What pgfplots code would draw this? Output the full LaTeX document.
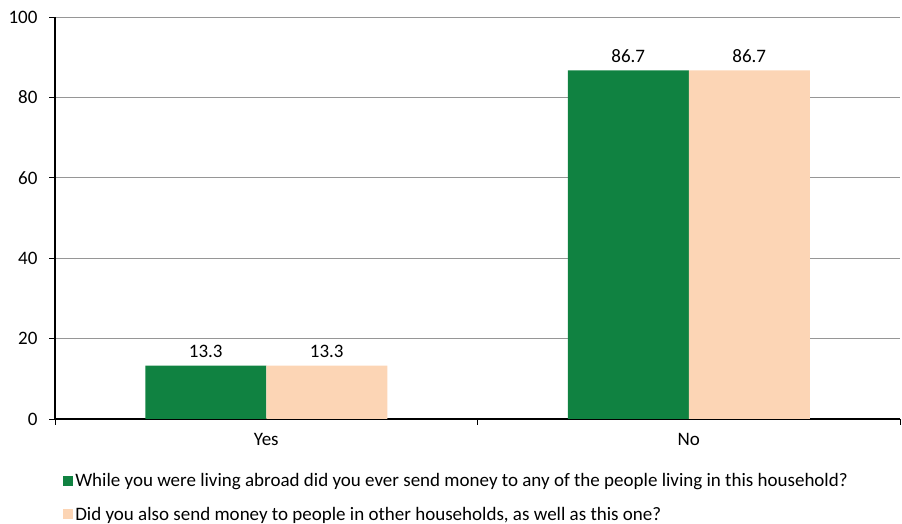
\documentclass[border=0pt]{standalone}
\usepackage{pgfplots}
\pgfplotsset{compat=1.18}
\usepackage{fontspec}
\setmainfont{Carlito}
\definecolor{darkgreen}{RGB}{16,130,65}
\definecolor{peach}{RGB}{252,213,181}
\definecolor{gridgray}{RGB}{150,150,150}
\newcommand{\lblfont}{\fontsize{19}{22}\selectfont}
\begin{document}
\begin{tikzpicture}[x=1pt,y=1pt]
\useasboundingbox (-55,-105) rectangle (847,419);
\begin{axis}[
  at={(0,0)}, anchor=south west,
  scale only axis,
  width=845pt, height=402pt,
  ybar=0pt, bar width=121pt,
  xmin=-0.5, xmax=1.5,
  ymin=0, ymax=100,
  ytick={0,20,...,100},
  xtick={-0.5,0.5,1.5}, xticklabels={},
  extra x ticks={0,1},
  extra x tick labels={Yes,No},
  extra x tick style={major tick length=0pt, grid=none},
  x tick style={black, line width=0.6pt},
  xtick align=outside,
  ytick align=outside, ytick pos=left, xtick pos=bottom,
  major tick length=6pt,
  ytick style={black, line width=0.6pt},
  ymajorgrids, grid style={gridgray, line width=0.8pt},
  axis x line*=bottom, axis y line*=left,
  axis line style={black, line width=1.2pt},
  every outer x axis line/.append style={-},
  every outer y axis line/.append style={-},
  tick label style={font=\lblfont},
  yticklabel style={xshift=-8pt},
  /pgf/number format/assume math mode=true,
  xticklabel style={yshift=-11pt},
  nodes near coords,
  every node near coord/.append style={font=\lblfont, black, yshift=4pt},
  nodes near coords={\pgfmathprintnumber[fixed,precision=1,fixed zerofill]{\pgfplotspointmeta}},
  legend style={at={(0.006,-0.125)}, anchor=north west, draw=none, fill=none,
    font=\lblfont, row sep=15pt,
    legend cell align=left},
  legend image code/.code={\draw[#1, draw=none] (0pt,-5pt) rectangle (10pt,5pt);},
  legend cell align=left,
]
\addplot[fill=darkgreen, draw=none] coordinates {(0,13.3) (1,86.7)};
\addplot[fill=peach, draw=none] coordinates {(0,13.3) (1,86.7)};
\legend{While you were living abroad did you ever send money to any of the people living in this household?,
{Did you also send money to people in other households, as well as this one?}}
\end{axis}
\end{tikzpicture}
\end{document}
